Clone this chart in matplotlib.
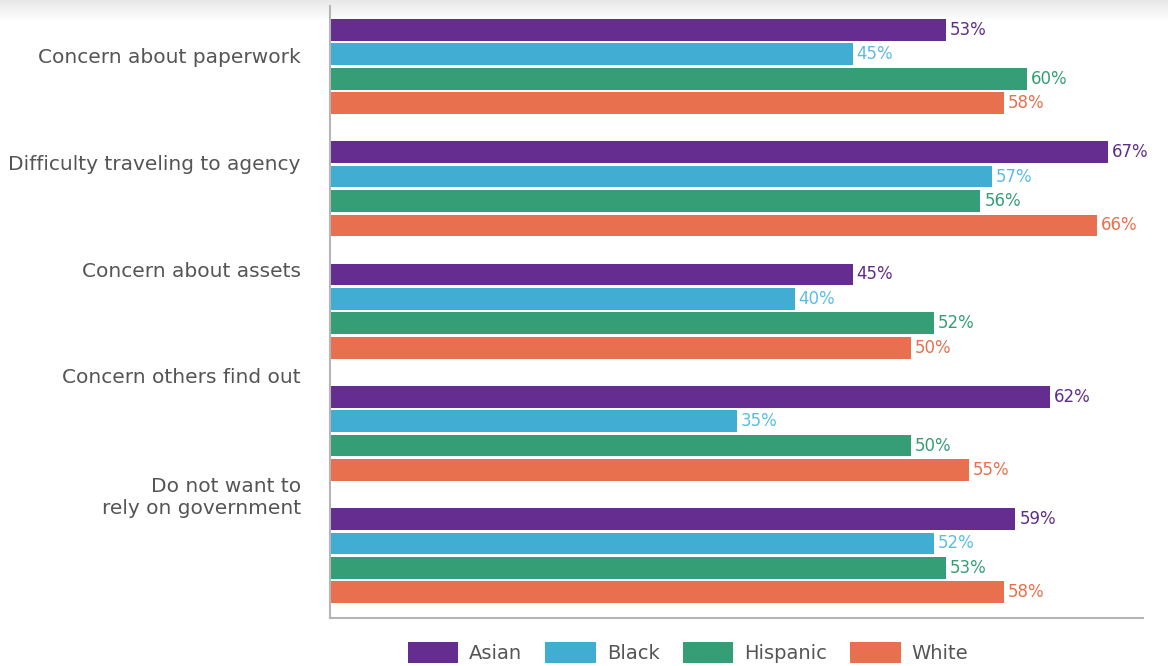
import numpy as np
import matplotlib.pyplot as plt
from matplotlib.patches import Patch

# data
categories = ["Concern about paperwork", "Difficulty traveling to agency",
              "Concern about assets", "Concern others find out",
              "Do not want to\nrely on government"]
series = ["Asian", "Black", "Hispanic", "White"]
asian = [53, 67, 45, 62, 59]
black = [45, 57, 40, 35, 52]
hispanic = [60, 56, 52, 50, 53]
white = [58, 66, 50, 55, 58]
values = [asian, black, hispanic, white]

colors = ["#652d8f", "#42add3", "#369e76", "#e8704e"]
label_colors = ["#5f2d8a", "#5bbde4", "#369e76", "#e8704e"]
text_gray = "#555555"

plt.rcParams['font.family'] = ['DejaVu Sans']

W, H = 1168, 666
fig = plt.figure(figsize=(W / 100, H / 100), dpi=100)

# faint shadow on top edge
sh = fig.add_axes([0, 1 - 22 / H, 1, 22 / H])
grad = np.linspace(0.91, 1.0, 50).reshape(-1, 1)
sh.imshow(grad, aspect='auto', cmap='gray', vmin=0, vmax=1, extent=[0, 1, 0, 1])
sh.axis('off')

ax = fig.add_axes([330 / W, 1 - 618 / H, (1143 - 330) / W, (618 - 6) / H])
ax.patch.set_alpha(0)

pitch = 0.2
bh = 0.178
offsets = np.array([-1.5, -0.5, 0.5, 1.5]) * pitch
pos = np.arange(len(categories))

for k, (vals, c, lc) in enumerate(zip(values, colors, label_colors)):
    ys = pos + offsets[k]
    ax.barh(ys, vals, height=bh, color=c, label=series[k])
    for y, v in zip(ys, vals):
        ax.text(v + 0.35, y, f"{v}%", color=lc, fontsize=12,
                va='center', ha='left')

ax.set_xlim(0, 70)
ax.set_ylim(4.51, -0.495)

# category labels sit at the top part of each group
label_pos = [-0.094, 0.781, 1.656, 2.524, 3.497]
ax.set_yticks(label_pos)
ax.set_yticklabels(categories, fontsize=14.5, color=text_gray, ha='right')
ax.tick_params(axis='y', length=0, pad=21)
ax.set_xticks([])

for s in ['top', 'right']:
    ax.spines[s].set_visible(False)
for s in ['left', 'bottom']:
    ax.spines[s].set_color('#b5b5b5')
    ax.spines[s].set_linewidth(1.5)

handles = [Patch(facecolor=c, edgecolor='none') for c in colors]
fig.legend(handles, series, loc='lower center', bbox_to_anchor=(0.589, -0.022),
           ncol=4, frameon=False, fontsize=14, labelcolor=text_gray,
           handlelength=2.6, handleheight=1.3, columnspacing=1.2,
           handletextpad=0.55)

fig.savefig("out.png", dpi=100)
